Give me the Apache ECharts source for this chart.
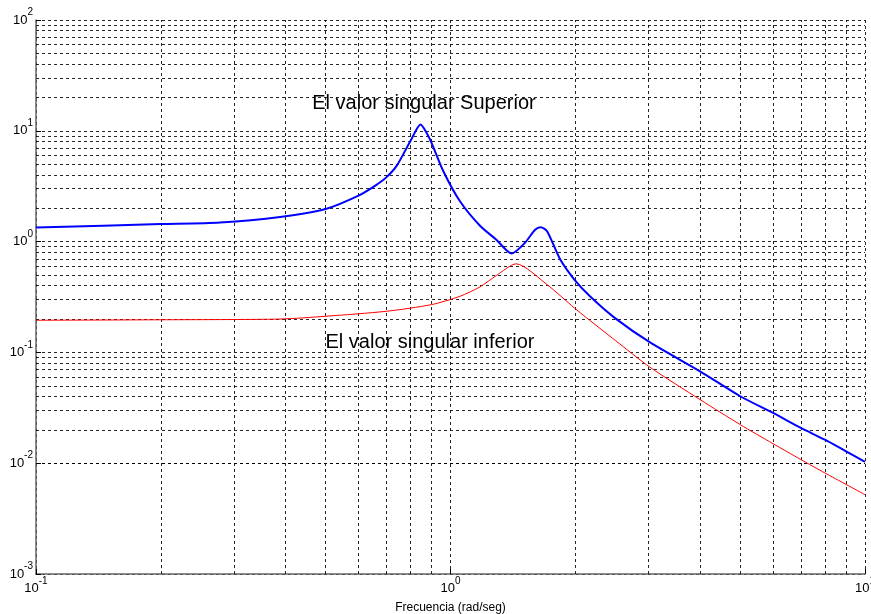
<!DOCTYPE html>
<html>
<head>
<meta charset="utf-8">
<script src="https://cdn.jsdelivr.net/npm/echarts@6/dist/echarts.min.js"></script>
<style>
html,body{margin:0;padding:0;background:#fff;}
#chart{width:871px;height:614px;}
</style>
</head>
<body>
<div id="chart"></div>
<script>
// Upper singular value (blue)
const freqSup = [0.1, 0.2, 0.278, 0.388, 0.5, 0.6, 0.66, 0.7, 0.742, 0.8, 0.847, 0.876, 0.9, 0.961, 1.054, 1.178, 1.29, 1.405, 1.51, 1.60, 1.65, 1.71, 1.84, 1.99, 2.17, 2.49, 3.03, 4.0, 5.0, 6.0, 7.0, 8.0, 9.0, 10];
const magSup  = [1.34, 1.44, 1.49, 1.67, 1.97, 2.60, 3.22, 3.80, 4.85, 8.04, 11.4, 9.57, 7.78, 4.31, 2.31, 1.39, 1.04, 0.78, 0.97, 1.28, 1.35, 1.24, 0.688, 0.454, 0.321, 0.205, 0.123, 0.0675, 0.0402, 0.0284, 0.0208, 0.0163, 0.0128, 0.0103];
// Lower singular value (red)
const freqInf = [0.1, 0.2, 0.388, 0.5, 0.7, 0.9, 1.054, 1.178, 1.29, 1.44, 1.71, 1.99, 2.13, 2.5, 3.03, 4.0, 5.0, 6.0, 7.0, 8.0, 10];
const magInf  = [0.195, 0.197, 0.200, 0.212, 0.235, 0.270, 0.321, 0.390, 0.494, 0.63, 0.409, 0.252, 0.205, 0.128, 0.0734, 0.0375, 0.0223, 0.0150, 0.0108, 0.00817, 0.0052];
// Minor grid positions
const xMinorGrid = [0.2, 0.3, 0.4, 0.5, 0.6, 0.7, 0.8, 0.9, 2, 3, 4, 5, 6, 7, 8, 9];
const yMinorGrid = [0.002,0.003,0.004,0.005,0.006,0.007,0.008,0.009,
                    0.02,0.03,0.04,0.05,0.06,0.07,0.08,0.09,
                    0.2,0.3,0.4,0.5,0.6,0.7,0.8,0.9,
                    2,3,4,5,6,7,8,9,
                    20,30,40,50,60,70,80,90];
const labelSup = 'El valor singular Superior';
const labelInf = 'El valor singular inferior';
const xName = 'Frecuencia (rad/seg)';

const FONT = '"Liberation Sans", Arial, sans-serif';
const gridDash = {type: [3, 3], color: '#000', width: 1, opacity: 0.85};

function powLabel(v) {
  const e = Math.round(Math.log10(v));
  return '{b|10}{s|' + e + '}';
}
const rich = {
  b: {fontSize: 13, fontFamily: FONT, color: '#000'},
  s: {fontSize: 10, fontFamily: FONT, color: '#000', padding: [0, 0, 15, 0]}
};

const chart = echarts.init(document.getElementById('chart'), null, {renderer: 'canvas'});
const option = {
  animation: false,
  backgroundColor: '#fff',
  grid: {left: 36, right: 6, top: 20, bottom: 40, containLabel: false, outerBoundsMode: 'none'},
  xAxis: {
    type: 'log', logBase: 10, min: 0.1, max: 10,
    name: xName, nameLocation: 'middle', nameGap: 28,
    nameTextStyle: {fontSize: 12, fontFamily: FONT, color: '#000'},
    axisLine: {show: true, lineStyle: {color: '#666', width: 1.5}},
    axisTick: {show: true, inside: true, length: 5, lineStyle: {color: '#000'}},
    axisLabel: {formatter: powLabel, rich: rich, margin: 2, hideOverlap: false},
    splitLine: {show: true, lineStyle: gridDash},
    minorTick: {show: false}, minorSplitLine: {show: false}
  },
  yAxis: {
    type: 'log', logBase: 10, min: 0.001, max: 100,
    axisLine: {show: true, lineStyle: {color: '#666', width: 1.5}},
    axisTick: {show: true, inside: true, length: 5, lineStyle: {color: '#000'}},
    axisLabel: {formatter: powLabel, rich: rich, margin: 3},
    splitLine: {show: true, lineStyle: gridDash},
    minorTick: {show: false}, minorSplitLine: {show: false}
  },
  series: [
    {
      type: 'line', name: 'inf', z: 3,
      data: freqInf.map((f, i) => [f, magInf[i]]),
      showSymbol: false, smooth: 0.25,
      lineStyle: {color: '#ff0000', width: 1},
      markLine: {
        z: 1, silent: true, symbol: ['none', 'none'], label: {show: false},
        lineStyle: gridDash, emphasis: {disabled: true},
        data: xMinorGrid.map(v => ({xAxis: v})).concat(yMinorGrid.map(v => ({yAxis: v})))
      }
    },
    {
      type: 'line', name: 'sup', z: 4,
      data: freqSup.map((f, i) => [f, magSup[i]]),
      showSymbol: false, smooth: 0.25,
      lineStyle: {color: '#0000ff', width: 2}
    }
  ],
  graphic: [
    {type: 'text', x: 424, y: 103, z: 10,
     style: {text: labelSup, font: '20px ' + FONT, fill: '#000', textAlign: 'center', textVerticalAlign: 'middle'}},
    {type: 'text', x: 430, y: 342, z: 10,
     style: {text: labelInf, font: '20px ' + FONT, fill: '#000', textAlign: 'center', textVerticalAlign: 'middle'}}
  ]
};
chart.setOption(option);
</script>
</body>
</html>
